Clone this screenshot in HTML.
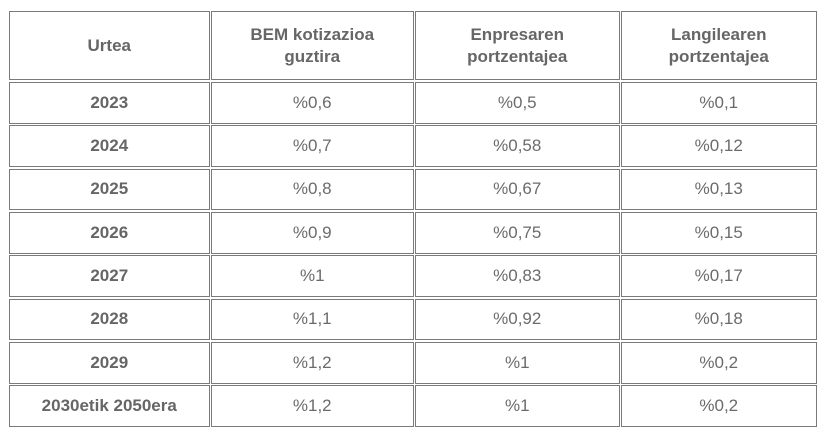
<!DOCTYPE html>
<html><head><meta charset="utf-8"><style>
body{margin:0;width:827px;height:439px;background:#fff;font-family:"Liberation Sans",sans-serif;color:#6b6b6b;position:relative;overflow:hidden}
.c{position:absolute;border:1px solid #7a7a7a;box-sizing:border-box;display:flex;align-items:center;justify-content:center;text-align:center;font-size:17px;line-height:22px}
.b{font-weight:bold;color:#666}
</style></head><body>
<script>
const xs=[9,211,415,621,818];
const rows=[[11,80]];
let y=82;for(let i=0;i<8;i++){rows.push([y,y+41.8]);y+=43.3;}
const data=[
["Urtea","BEM kotizazioa<br>guztira","Enpresaren<br>portzentajea","Langilearen<br>portzentajea"],
["2023","%0,6","%0,5","%0,1"],
["2024","%0,7","%0,58","%0,12"],
["2025","%0,8","%0,67","%0,13"],
["2026","%0,9","%0,75","%0,15"],
["2027","%1","%0,83","%0,17"],
["2028","%1,1","%0,92","%0,18"],
["2029","%1,2","%1","%0,2"],
["2030etik 2050era","%1,2","%1","%0,2"]];
let h="";
data.forEach((r,i)=>r.forEach((t,j)=>{
const bold=i==0||j==0;
h+=`<div class="c${bold?' b':''}" style="left:${xs[j]}px;top:${rows[i][0]}px;width:${xs[j+1]-xs[j]-1.5}px;height:${rows[i][1]-rows[i][0]}px">${t}</div>`;}));
document.write(h);
</script>
</body></html>
